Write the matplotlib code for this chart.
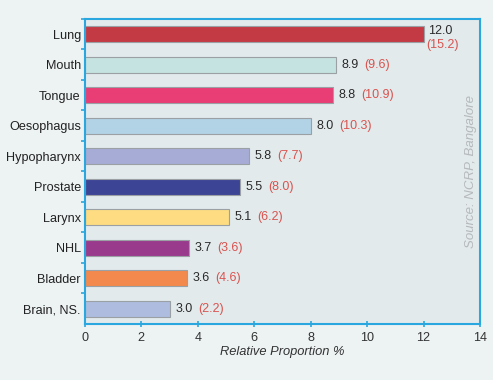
import matplotlib

matplotlib.use("Agg")
import matplotlib.pyplot as plt  # noqa: E402

categories = ["Lung", "Mouth", "Tongue", "Oesophagus", "Hypopharynx",
              "Prostate", "Larynx", "NHL", "Bladder", "Brain, NS."]
values = [12.0, 8.9, 8.8, 8.0, 5.8, 5.5, 5.1, 3.7, 3.6, 3.0]
bracket_values = [15.2, 9.6, 10.9, 10.3, 7.7, 8.0, 6.2, 3.6, 4.6, 2.2]
bar_colors = ["#c43a44", "#c5e3e0", "#e83d75", "#b2d3e5", "#a6acd5",
              "#3c4496", "#fddc82", "#9a3a8c", "#f3894c", "#aebddf"]
x_ticks = [0, 2, 4, 6, 8, 10, 12, 14]

BLUE = "#2aa7df"
plt.rcParams["font.family"] = ["Liberation Sans", "DejaVu Sans"]

fig = plt.figure(figsize=(4.93, 3.80), dpi=100, facecolor="#edf2f3")
ax = fig.add_axes([0.1724, 0.1474, 0.8012, 0.8026], facecolor="#e3eaec")

pos = list(range(len(categories)))
ax.barh(pos, values, height=0.52, color=bar_colors,
        edgecolor="#9aa0a4", linewidth=0.8, zorder=2)

ax.set_ylim(len(categories) - 0.5, -0.5)
ax.set_xlim(0, 14)
ax.set_xticks(x_ticks)
ax.set_xticklabels([str(t) for t in x_ticks], fontsize=9.1, color="#333333")
ax.set_yticks(pos)
ax.set_yticklabels(categories, fontsize=9.1, color="#222222")
ax.tick_params(axis="y", length=0, pad=3)
# small ticks between categories on the left spine
ax.set_yticks([p + 0.5 for p in pos[:-1]] + [-0.5], minor=True)
ax.tick_params(axis="y", which="minor", length=3, width=1.2, color=BLUE,
               direction="out")
ax.tick_params(axis="x", length=5, width=1.2, color=BLUE, direction="inout",
               pad=3)

for s in ax.spines.values():
    s.set_color(BLUE)
    s.set_linewidth(1.5)

for i, (v, b) in enumerate(zip(values, bracket_values)):
    if i == 0:
        # longest bar: value and bracket stacked to stay inside the frame
        ax.annotate(f"{v:.1f}", xy=(v, i), xytext=(3, 2),
                    textcoords="offset points", va="center", ha="left",
                    fontsize=9, color="#2a2a2a")
        ax.annotate(f"({b:.1f})", xy=(v, i), xytext=(2, -7.6),
                    textcoords="offset points", va="center", ha="left",
                    fontsize=9, color="#d9534f")
    else:
        t = ax.annotate(f"{v:.1f}", xy=(v, i), xytext=(4, 0),
                        textcoords="offset points", va="center", ha="left",
                        fontsize=9, color="#2a2a2a")
        ax.annotate(f"({b:.1f})", xy=(1, 0.5), xycoords=t, xytext=(4, 0),
                    textcoords="offset points", va="center", ha="left",
                    fontsize=9, color="#d9534f")

ax.set_xlabel("Relative Proportion %", fontsize=9.3, style="italic",
              color="#333333", labelpad=2)

ax.text(0.977, 0.5, "Source: NCRP, Bangalore", transform=ax.transAxes,
        rotation=90, ha="center", va="center", fontsize=9.5,
        style="italic", color="#b5b9bb")

fig.savefig("out.png", dpi=100, facecolor=fig.get_facecolor())
